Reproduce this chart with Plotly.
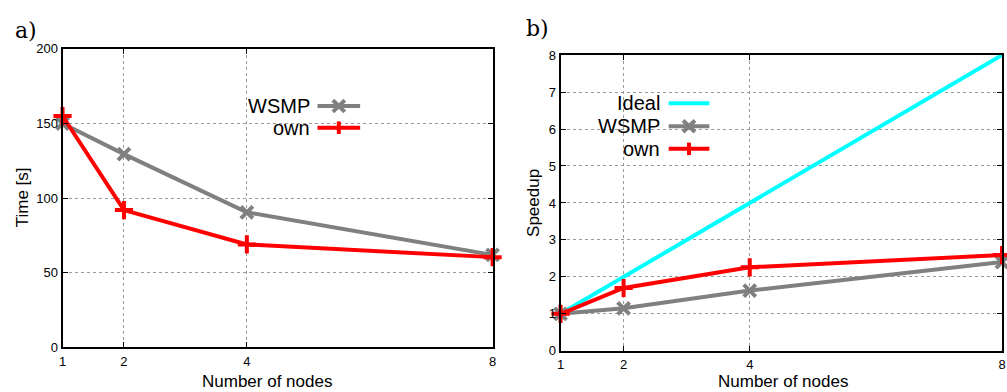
import plotly.graph_objects as go

nodes = [1, 2, 4, 8]
time_wsmp = [150, 129.5, 90.5, 62]
time_own = [155, 92, 69, 60.5]
speedup_ideal = [1, 2, 4, 8]
speedup_wsmp = [1.0, 1.15, 1.63, 2.4]
speedup_own = [1.0, 1.7, 2.26, 2.59]

W, H = 1007, 392
GRAY = "#808080"
RED = "#ff0000"
CYAN = "#00ffff"
FONT = "Liberation Sans, Arial, sans-serif"


def px(x):
    return x / W


def py(y):
    return 1 - y / H


fig = go.Figure()

fig.add_trace(go.Scatter(x=nodes, y=time_wsmp, mode="lines+markers", name="WSMP",
                         line=dict(color=GRAY, width=4),
                         marker=dict(symbol="x-thin", size=12, line=dict(color=GRAY, width=4)),
                         cliponaxis=False, xaxis="x", yaxis="y"))
fig.add_trace(go.Scatter(x=nodes, y=time_own, mode="lines+markers", name="own",
                         line=dict(color=RED, width=4),
                         marker=dict(symbol="cross-thin", size=13, line=dict(color=RED, width=4)),
                         cliponaxis=False, xaxis="x", yaxis="y"))

fig.add_trace(go.Scatter(x=nodes, y=speedup_ideal, mode="lines", name="Ideal",
                         line=dict(color=CYAN, width=4), xaxis="x2", yaxis="y2"))
fig.add_trace(go.Scatter(x=nodes, y=speedup_wsmp, mode="lines+markers", name="WSMP",
                         line=dict(color=GRAY, width=4),
                         marker=dict(symbol="x-thin", size=12, line=dict(color=GRAY, width=4)),
                         cliponaxis=False, xaxis="x2", yaxis="y2"))
fig.add_trace(go.Scatter(x=nodes, y=speedup_own, mode="lines+markers", name="own",
                         line=dict(color=RED, width=4),
                         marker=dict(symbol="cross-thin", size=13, line=dict(color=RED, width=4)),
                         cliponaxis=False, xaxis="x2", yaxis="y2"))

axis_common = dict(showline=True, linecolor="black", linewidth=2, mirror="ticks",
                   ticks="inside", ticklen=5, tickwidth=1, tickcolor="black",
                   showgrid=True, gridcolor="#999999", griddash="dot", gridwidth=1,
                   zeroline=False, tickfont=dict(family=FONT, size=13, color="black"))

fig.update_layout(
    width=W, height=H, margin=dict(l=0, r=0, t=0, b=0),
    plot_bgcolor="white", paper_bgcolor="white", showlegend=False,
    xaxis=dict(domain=[px(59), px(492.5)], range=[1, 8], tickvals=nodes, anchor="y",
               ticklabelstandoff=1, **axis_common),
    yaxis=dict(domain=[py(354), py(43.5)], range=[0, 200], tickvals=[0, 50, 100, 150, 200],
               anchor="x", **axis_common),
    xaxis2=dict(domain=[px(561), px(1006)], range=[1, 8], tickvals=nodes, anchor="y2",
                ticklabelstandoff=1, **axis_common),
    yaxis2=dict(domain=[py(357.5), py(50)], range=[0, 8], tickvals=list(range(9)),
                anchor="x2", **axis_common),
)

annotations = [
    dict(text="a)", x=px(22), y=py(24), font=dict(family="DejaVu Serif, serif", size=22)),
    dict(text="b)", x=px(538), y=py(22), font=dict(family="DejaVu Serif, serif", size=22)),
    dict(text="Time [s]", x=px(19), y=py(198), textangle=-90, font=dict(family=FONT, size=17)),
    dict(text="Speedup", x=px(533), y=py(204), textangle=-90, font=dict(family=FONT, size=17)),
    dict(text="Number of nodes", x=px(265), y=py(389), font=dict(family=FONT, size=17)),
    dict(text="Number of nodes", x=px(785), y=py(389), font=dict(family=FONT, size=17)),
]

shapes = []


def legend_entry(text, xr, yc, x0, x1, color, marker=None):
    annotations.append(dict(text=text, x=px(xr), y=py(yc), xanchor="right",
                            font=dict(family=FONT, size=20)))
    shapes.append(dict(type="line", xref="paper", yref="paper", x0=px(x0), x1=px(x1),
                       y0=py(yc), y1=py(yc), line=dict(color=color, width=4)))
    xm = (x0 + x1) / 2
    if marker == "x":
        d = 6
        for s in (1, -1):
            shapes.append(dict(type="line", xref="paper", yref="paper",
                               x0=px(xm - d), x1=px(xm + d), y0=py(yc - s * d), y1=py(yc + s * d),
                               line=dict(color=color, width=4)))
    elif marker == "+":
        shapes.append(dict(type="line", xref="paper", yref="paper",
                           x0=px(xm), x1=px(xm), y0=py(yc - 6.5), y1=py(yc + 6.5),
                           line=dict(color=color, width=4)))


legend_entry("WSMP", 310, 103, 316, 359, GRAY, "x")
legend_entry("own", 310, 125.5, 316, 359, RED, "+")
legend_entry("Ideal", 663, 100, 670, 711, CYAN)
legend_entry("WSMP", 663, 124, 670, 711, GRAY, "x")
legend_entry("own", 663, 147.5, 670, 711, RED, "+")

for a in annotations:
    a.setdefault("xref", "paper")
    a.setdefault("yref", "paper")
    a.setdefault("showarrow", False)
    a.setdefault("xanchor", "center")
    a.setdefault("yanchor", "middle")
    a.setdefault("font", {})
    a["font"].setdefault("color", "black")

fig.update_layout(annotations=annotations, shapes=shapes)
fig.write_html("out.html", config={"displayModeBar": False},
               post_script="document.body.style.margin='0';document.body.style.overflow='hidden';")
